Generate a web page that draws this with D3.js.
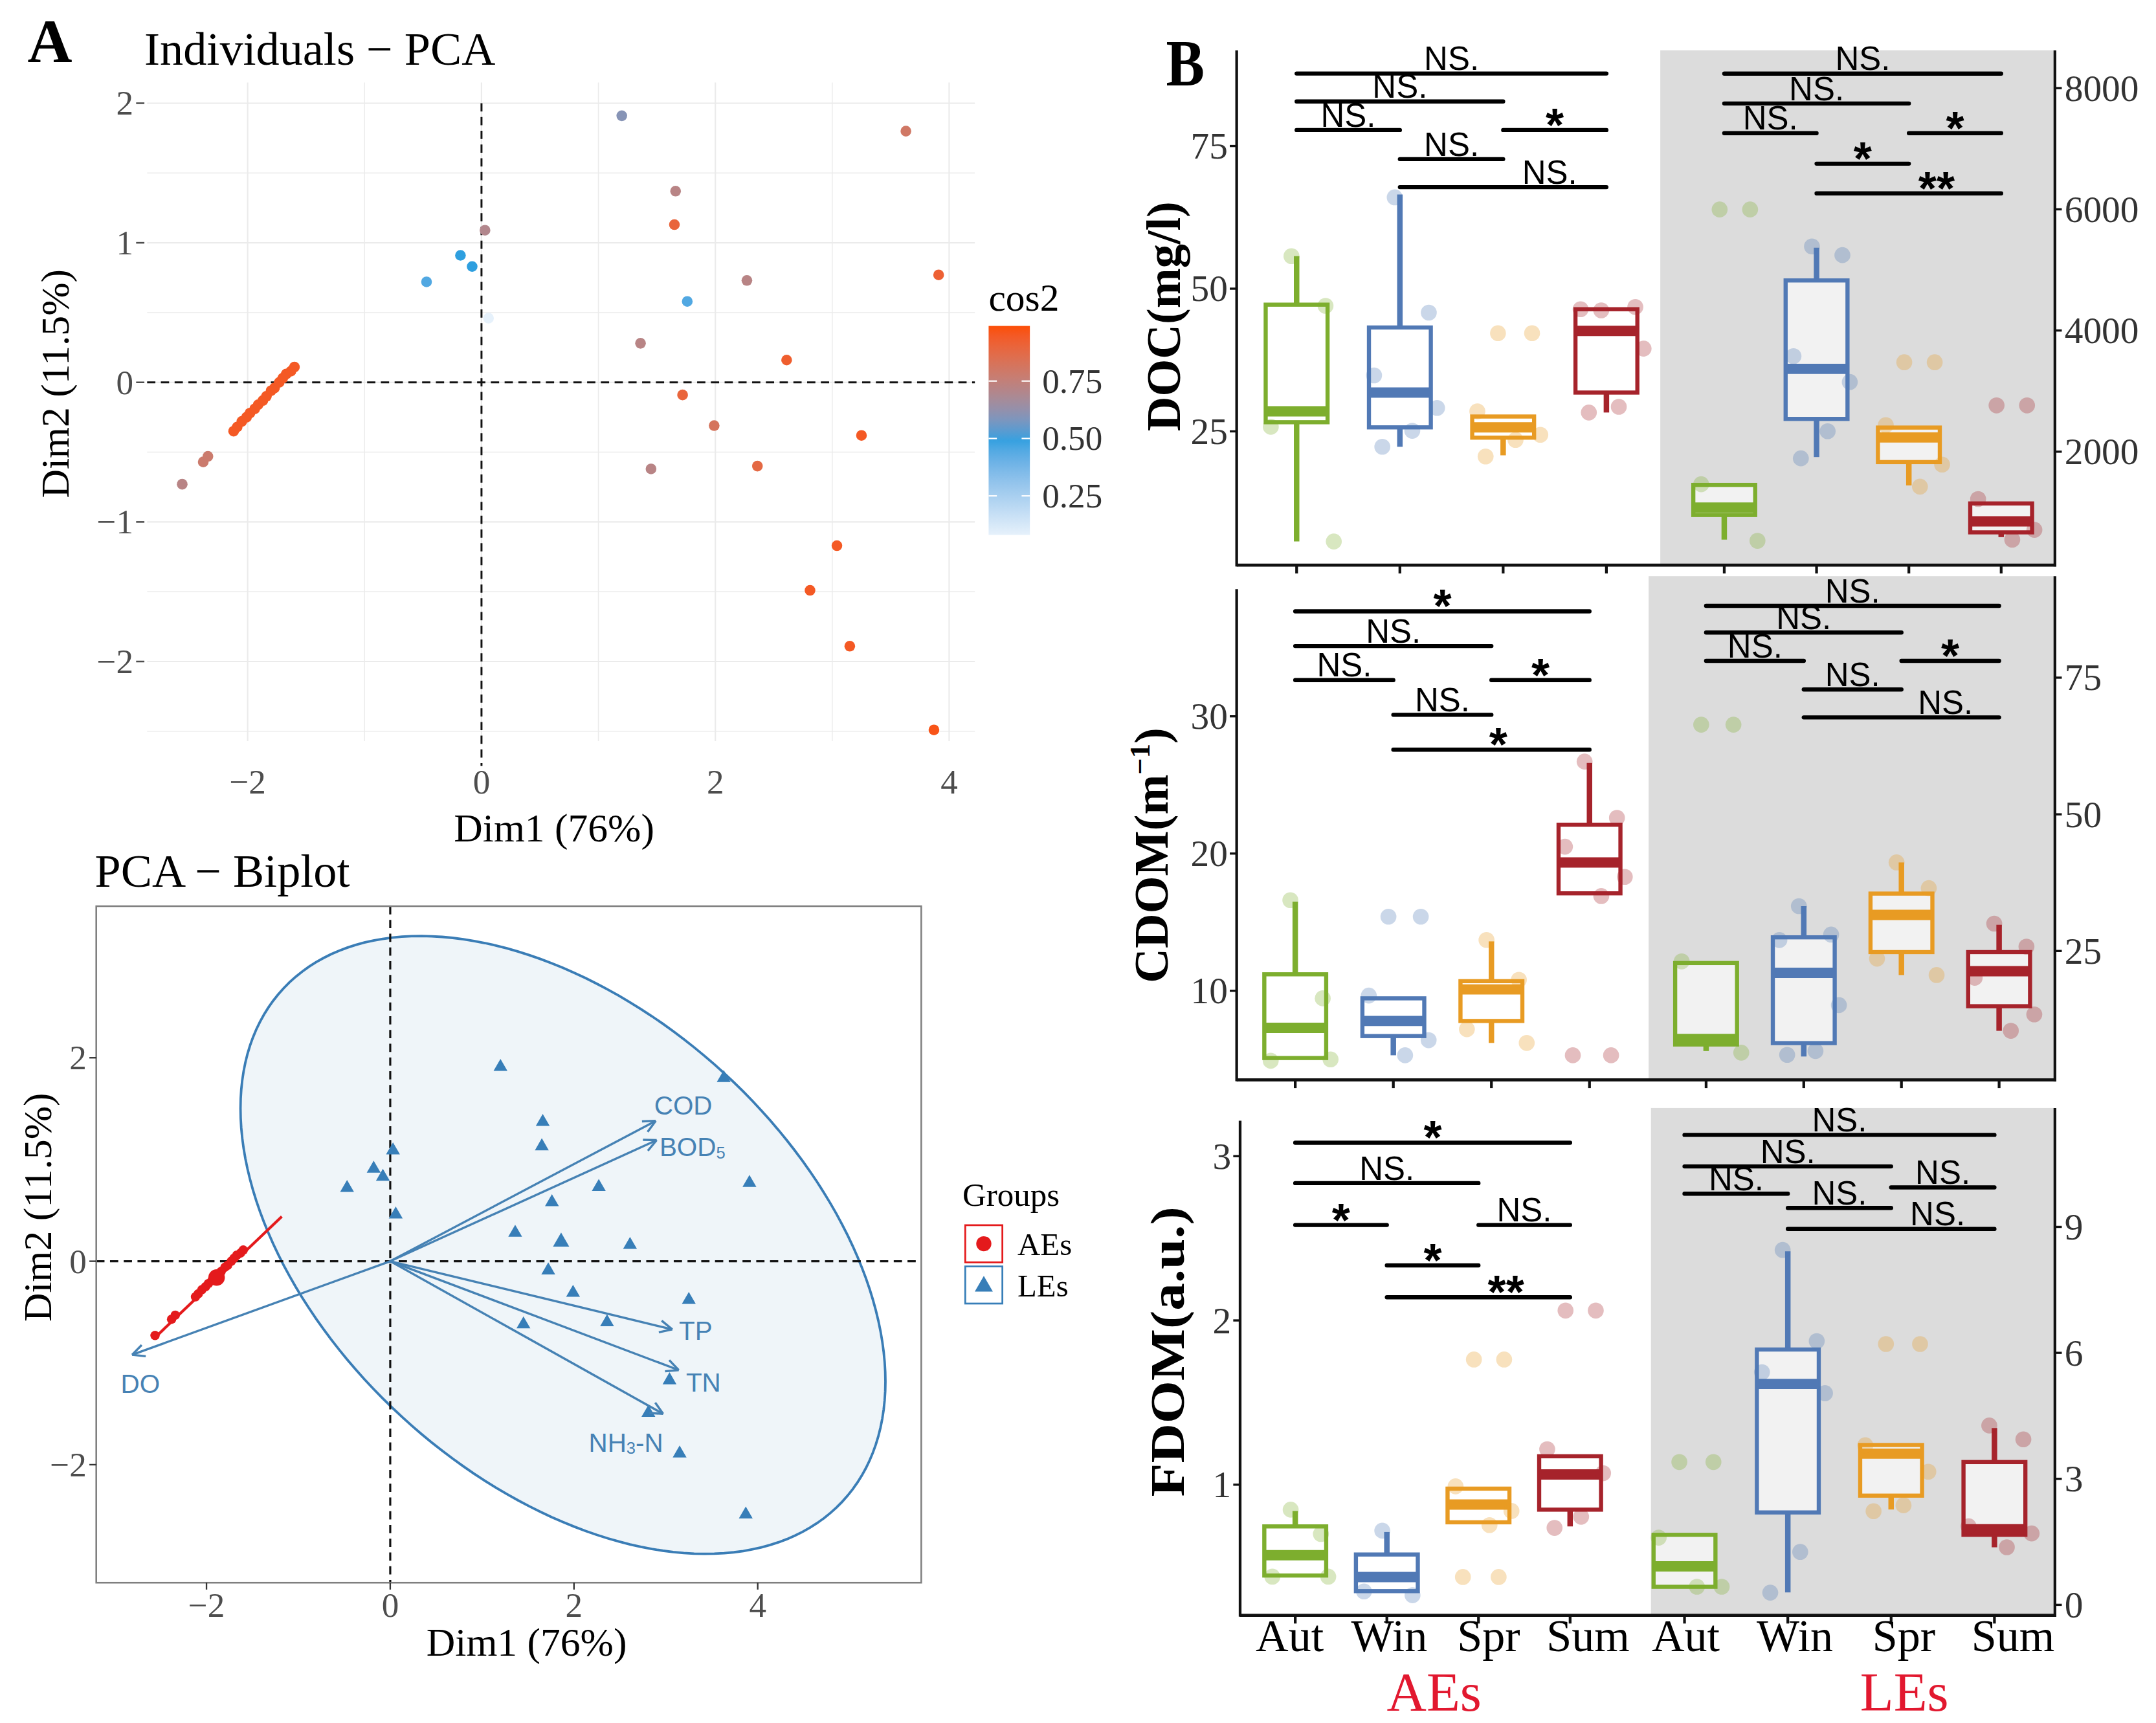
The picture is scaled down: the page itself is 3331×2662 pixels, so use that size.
<!DOCTYPE html>
<html><head><meta charset="utf-8">
<script src="https://cdn.jsdelivr.net/npm/d3@7"></script>
<style>html,body{margin:0;padding:0;background:#fff;}svg{display:block;}</style>
</head><body><svg id="c"></svg>
<script>
// ================= DATA =================
// Panel A: PCA individuals (Dim1, Dim2, cos2)
const leDim1=[1.20,3.63,1.66,1.65,0.03,-0.18,-0.08,-0.47,2.27,3.91,1.76,1.36,2.61,1.72,1.99,3.25,1.45,2.36,3.04,2.81,3.15,3.87,0.06];
const leDim2=[1.91,1.80,1.37,1.13,1.09,0.91,0.83,0.72,0.73,0.77,0.58,0.28,0.16,-0.09,-0.31,-0.38,-0.62,-0.60,-1.17,-1.49,-1.89,-2.49,0.46];
const leCos2=[0.60,0.80,0.72,0.90,0.70,0.50,0.50,0.45,0.72,0.92,0.45,0.72,0.93,0.90,0.82,0.95,0.72,0.88,0.95,0.95,0.95,0.97,0.08];
const aeDim1=[-2.56,-2.38,-2.34,-2.12,-2.09,-2.05,-2.01,-1.98,-1.94,-1.91,-1.87,-1.84,-1.80,-1.77,-1.73,-1.70,-1.67,-1.63,-1.60];
const aeDim2=[-0.73,-0.57,-0.53,-0.35,-0.32,-0.28,-0.25,-0.22,-0.19,-0.16,-0.13,-0.10,-0.06,-0.04,0.00,0.03,0.06,0.08,0.11];
const aeCos2=[0.72,0.78,0.78,0.95,0.95,0.95,0.95,0.95,0.95,0.95,0.95,0.95,0.95,0.95,0.95,0.95,0.95,0.95,0.95];
const aeMean=[-1.89,-0.16];
const leMean=[1.86,0.19];
const aeEllipseEnds=[[-2.56,-0.75],[-1.18,0.44]];
const leEllipseCenter=[1.88,0.16];
const leEllipseCov=[12.32,-4.71,9.22]; // sxx, sxy, syy
const varNames=["COD","BOD5","TP","TN","NH3-N","DO"];
const varDim1=[2.89,2.90,3.07,3.14,2.97,-2.81];
const varDim2=[1.38,1.19,-0.67,-1.07,-1.50,-0.92];
const pcaTicksX=[-2,0,2,4], pcaTicksY=[-2,-1,0,1,2], biTicksY=[-2,0,2];
const cos2Ticks=[0.25,0.50,0.75];

// Panel B: seasons and box statistics [lower whisker, Q1, median, Q3, upper whisker]
const seasons=["Aut","Win","Spr","Sum"];
const docAEsBox=[[5.7,26.6,28.5,47.2,55.7],[22.3,25.7,31.8,43.2,66.5],[20.8,23.9,25.7,27.6,27.6],[28.3,31.8,42.6,46.4,46.4]];
const docLEsBox=[[549,955,1078,1452,1452],[1911,2541,3367,4826,5366],[1443,1829,2235,2398,2398],[590,669,850,1146,1146]];
const cdomAEsBox=[[5.1,5.1,7.3,11.2,16.5],[5.3,6.7,7.8,9.45,9.55],[6.2,7.8,10.1,10.7,13.6],[17.1,17.1,19.35,22.1,26.6]];
const cdomLEsBox=[[6.7,7.9,8.9,22.8,22.8],[5.7,8.15,21.0,27.5,33.2],[20.6,24.8,31.6,35.5,41.2],[10.4,14.9,21.3,24.8,29.8]];
const fdomAEsBox=[[0.447,0.447,0.571,0.746,0.84],[0.352,0.352,0.438,0.575,0.712],[0.771,0.771,0.879,0.976,0.976],[0.746,0.848,1.062,1.173,1.173]];
const fdomLEsBox=[[0.429,0.429,0.917,1.667,1.667],[0.295,2.20,5.26,6.08,8.42],[2.27,2.60,3.60,3.806,3.806],[1.37,1.667,1.80,3.40,4.21]];
// observations
const docAEsPts=[[55.7,47,25.8,5.7],[66,45.8,34.8,29.1,25.1,22.3],[42.2,42.2,28.5,24.4,23.5,20.6],[46.2,46.8,46.4,39.5,29.3,28.3]];
const docLEsPts=[[5997,5997,1463,529],[5387,5244,3576,3150,2337,1890],[3476,3476,2439,1788,1423],[2764,2764,1219,710,549]];
const cdomAEsPts=[[16.6,9.45,4.9,5.0],[15.4,15.4,9.65,6.4,5.3],[13.7,10.8,7.2,6.2],[26.7,22.6,20.5,18.3,16.9,5.3,5.3]];
const cdomLEsPts=[[66.4,66.4,23.1,6.4],[33.2,28,27.0,15.1,6.7,6.0],[41.2,36.5,23.6,20.6],[30,25.8,20.1,13.4,10.4]];
const fdomAEsPts=[[0.848,0.70,0.44,0.44],[0.72,0.327,0.35],[1.762,1.762,0.99,0.84,0.754,0.438,0.438],[2.06,2.06,1.216,1.07,0.805,0.737]];
const fdomLEsPts=[[3.40,3.40,1.6,0.43,0.43],[8.45,6.28,5.54,5.04,1.26,0.29],[6.21,6.21,3.80,3.17,2.37,2.23],[4.27,3.94,1.87,1.70,1.37]];
// significance: [from, to, label, y position (data units)]
const docAEsSig=[["Aut","Sum","NS.",87.7],["Aut","Spr","NS.",82.8],["Aut","Win","NS.",77.8],["Spr","Sum","*",77.8],["Win","Spr","NS.",72.7],["Win","Sum","NS.",67.8]];
const docLEsSig=[["Aut","Sum","NS.",8239],["Aut","Spr","NS.",7747],["Aut","Win","NS.",7257],["Spr","Sum","*",7257],["Win","Spr","*",6753],["Win","Sum","**",6263]];
const cdomAEsSig=[["Aut","Sum","*",37.65],["Aut","Spr","NS.",35.12],["Aut","Win","NS.",32.64],["Spr","Sum","*",32.64],["Win","Spr","NS.",30.11],["Win","Sum","*",27.57]];
const cdomLEsSig=[["Aut","Sum","NS.",88.13],["Aut","Spr","NS.",83.25],["Aut","Win","NS.",78.07],["Spr","Sum","*",78.07],["Win","Spr","NS.",72.84],["Win","Sum","NS.",67.73]];
const fdomAEsSig=[["Aut","Sum","*",3.082],["Aut","Spr","NS.",2.836],["Aut","Win","*",2.581],["Spr","Sum","NS.",2.581],["Win","Spr","*",2.335],["Win","Sum","**",2.141]];
const fdomLEsSig=[["Aut","Sum","NS.",11.19],["Aut","Spr","NS.",10.44],["Aut","Win","NS.",9.79],["Spr","Sum","NS.",9.94],["Win","Spr","NS.",9.45],["Win","Sum","NS.",8.95]];
const docLTicks=[25,50,75], docRTicks=[2000,4000,6000,8000];
const cdomLTicks=[10,20,30], cdomRTicks=[25,50,75];
const fdomLTicks=[1,2,3], fdomRTicks=[0,3,6,9];

// ================= STYLE / LAYOUT =================
const SERIF="'Liberation Serif','Times New Roman',serif", SANS="'Liberation Sans',Arial,sans-serif";
const seasonColors=["#7DAE2E","#5179B5","#E89B23","#A6232B"];
const svg=d3.select("#c").attr("width",3331).attr("height",2662).attr("viewBox","0 0 1568 1253");
svg.append("rect").attr("width",1568).attr("height",1253).attr("fill","#fff");

function txt(g,x,y,s,o){
  const t=g.append("text").attr("x",x).attr("y",y).text(s)
    .attr("font-family",o.ff||SERIF).attr("font-size",o.fs||20).attr("fill",o.fill||"#000")
    .attr("text-anchor",o.anchor||"start");
  if(o.fw) t.attr("font-weight",o.fw);
  if(o.db) t.attr("dominant-baseline",o.db);
  if(o.tl) t.attr("textLength",o.tl).attr("lengthAdjust","spacingAndGlyphs");
  if(o.tr) t.attr("transform",o.tr);
  return t;
}
const cosColor=v=> v<=0.5 ? d3.interpolateLab("#FFFFFF","#2E9FDF")(Math.max(0,(v-0.01)/0.49))
                          : d3.interpolateLab("#2E9FDF","#FC4E07")(Math.min(1,(v-0.5)/0.49));
const fmtMinus=d=> (d<0?"\u2212":"")+Math.abs(d);

// ================= PANEL A (top): Individuals - PCA =================
(function(){
  const g=svg.append("g");
  const x=d3.scaleLinear().domain([-2.86,4.22]).range([107,709]);
  const y=d3.scaleLinear().domain([-2.63,2.148]).range([545,60]);
  const [x0,x1]=x.range(), [y0,y1]=y.range();
  const minorY=[-2.5,-1.5,-0.5,0.5,1.5];
  g.selectAll(".gy").data(pcaTicksY.concat(minorY)).join("line").attr("x1",x0).attr("x2",x1)
    .attr("y1",d=>y(d)).attr("y2",d=>y(d)).attr("stroke","#EBEBEB").attr("stroke-width",d=>Number.isInteger(d)?1:0.7);
  g.selectAll(".gx").data(d3.range(-2,5,1)).join("line").attr("y1",y1).attr("y2",y0-6)
    .attr("x1",d=>x(d)).attr("x2",d=>x(d)).attr("stroke","#EBEBEB").attr("stroke-width",d=>d%2===0?1:0.7);
  g.append("line").attr("x1",x0).attr("x2",x1).attr("y1",y(0)).attr("y2",y(0)).attr("stroke","#111").attr("stroke-width",1.4).attr("stroke-dasharray","6,4");
  g.append("line").attr("x1",x(0)).attr("x2",x(0)).attr("y1",y1+15).attr("y2",y0+12).attr("stroke","#111").attr("stroke-width",1.4).attr("stroke-dasharray","6,4");
  pcaTicksY.forEach(d=>{
    txt(g,97,y(d),fmtMinus(d),{fs:25,anchor:"end",db:"central",fill:"#4D4D4D"});
    g.append("line").attr("x1",99).attr("x2",105).attr("y1",y(d)).attr("y2",y(d)).attr("stroke","#4D4D4D").attr("stroke-width",1.2);
  });
  pcaTicksX.forEach(d=>txt(g,x(d),577,fmtMinus(d),{fs:25,anchor:"middle",fill:"#4D4D4D"}));
  const pts=leDim1.map((d,i)=>({x:d,y:leDim2[i],c:leCos2[i]})).concat(aeDim1.map((d,i)=>({x:d,y:aeDim2[i],c:aeCos2[i]})));
  g.selectAll(".p").data(pts).join("circle").attr("cx",d=>x(d.x)).attr("cy",d=>y(d.y)).attr("r",3.9).attr("fill",d=>cosColor(d.c));
  txt(svg,20,45,"A",{fs:45,fw:"bold"});
  txt(g,105,47,"Individuals \u2212 PCA",{fs:34});
  txt(g,403,612,"Dim1 (76%)",{fs:29,anchor:"middle"});
  txt(g,0,0,"Dim2 (11.5%)",{fs:29,anchor:"middle",tr:"translate(50,279) rotate(-90)"});
  const ly=d3.scaleLinear().domain([0.08,0.99]).range([389,237]);
  const grad=svg.append("defs").append("linearGradient").attr("id","cosg").attr("x1",0).attr("x2",0).attr("y1",1).attr("y2",0);
  d3.range(0,1.0001,0.05).forEach(t=>{const v=0.08+t*0.91;grad.append("stop").attr("offset",t).attr("stop-color",cosColor(v));});
  txt(g,719,226,"cos2",{fs:28});
  g.append("rect").attr("x",719).attr("y",ly(0.99)).attr("width",30).attr("height",ly(0.08)-ly(0.99)).attr("fill","url(#cosg)");
  cos2Ticks.forEach(d=>{
    g.append("line").attr("x1",719).attr("x2",725).attr("y1",ly(d)).attr("y2",ly(d)).attr("stroke","#fff").attr("stroke-width",1);
    g.append("line").attr("x1",743).attr("x2",749).attr("y1",ly(d)).attr("y2",ly(d)).attr("stroke","#fff").attr("stroke-width",1);
    txt(g,758,ly(d),d.toFixed(2),{fs:25,db:"central",fill:"#333"});
  });
})();

// ================= PANEL A (bottom): PCA - Biplot =================
(function(){
  const g=svg.append("g");
  const x=d3.scaleLinear().domain([-3.2,5.78]).range([70,670]);
  const y=d3.scaleLinear().domain([-3.16,3.49]).range([1151,659]);
  const [x0,x1]=x.range(), [y0,y1]=y.range();
  txt(g,69,645,"PCA \u2212 Biplot",{fs:34});
  const [cx,cy]=leEllipseCenter, [sxx,sxy,syy]=leEllipseCov;
  const L11=Math.sqrt(sxx), L21=sxy/L11, L22=Math.sqrt(syy-L21*L21);
  const ell=d3.range(0,360,2).map(a=>{const t=a*Math.PI/180;return [x(cx+L11*Math.cos(t)),y(cy+L21*Math.cos(t)+L22*Math.sin(t))];});
  g.append("path").attr("d",d3.line().curve(d3.curveLinearClosed)(ell)).attr("fill","#377EB8").attr("fill-opacity",0.08)
    .attr("stroke","#3A7DB6").attr("stroke-width",1.8);
  g.append("line").attr("x1",x0).attr("x2",x1).attr("y1",y(0)).attr("y2",y(0)).attr("stroke","#111").attr("stroke-width",1.5).attr("stroke-dasharray","6,4");
  g.append("line").attr("x1",x(0)).attr("x2",x(0)).attr("y1",y1).attr("y2",y0).attr("stroke","#111").attr("stroke-width",1.5).attr("stroke-dasharray","6,4");
  g.append("line").attr("x1",x(aeEllipseEnds[0][0])).attr("y1",y(aeEllipseEnds[0][1])).attr("x2",x(aeEllipseEnds[1][0])).attr("y2",y(aeEllipseEnds[1][1]))
    .attr("stroke","#E41A1C").attr("stroke-width",2);
  g.selectAll(".ae").data(aeDim1.map((d,i)=>[d,aeDim2[i]])).join("circle").attr("cx",d=>x(d[0])).attr("cy",d=>y(d[1])).attr("r",3.4).attr("fill","#E41A1C");
  g.append("circle").attr("cx",x(aeMean[0])).attr("cy",y(aeMean[1])).attr("r",6).attr("fill","#E41A1C");
  const tri=d3.symbol().type(d3.symbolTriangle).size(44);
  g.selectAll(".le").data(leDim1.map((d,i)=>[d,leDim2[i]])).join("path").attr("d",tri)
    .attr("transform",d=>`translate(${x(d[0])},${y(d[1])})`).attr("fill","#377EB8");
  g.append("path").attr("d",d3.symbol().type(d3.symbolTriangle).size(60)).attr("transform",`translate(${x(leMean[0])},${y(leMean[1])})`).attr("fill","#377EB8");
  const ac="#4682B4";
  varNames.forEach((n,i)=>{
    const tx=x(varDim1[i]), ty=y(varDim2[i]), ox=x(0), oy=y(0);
    g.append("line").attr("x1",ox).attr("y1",oy).attr("x2",tx).attr("y2",ty).attr("stroke",ac).attr("stroke-width",1.6);
    const ang=Math.atan2(ty-oy,tx-ox), L=10;
    [-0.45,0.45].forEach(da=>g.append("line").attr("x1",tx).attr("y1",ty)
      .attr("x2",tx-L*Math.cos(ang+da)).attr("y2",ty-L*Math.sin(ang+da)).attr("stroke",ac).attr("stroke-width",1.6));
  });
  const labPos={"COD":[20,-11,"middle"],"BOD5":[26,5,"middle"],"TP":[17,1,"middle"],"TN":[18,9,"middle"],"NH3-N":[-27,21,"middle"],"DO":[6,21,"middle"]};
  varNames.forEach((n,i)=>{
    const p=labPos[n], tx=x(varDim1[i])+p[0], ty=y(varDim2[i])+p[1];
    const t=txt(g,tx,ty,"",{ff:SANS,fs:19,fill:ac,anchor:p[2],db:"central"});
    const m=n.match(/^([A-Z]+)(\d)(.*)$/);
    if(m){t.append("tspan").text(m[1]);t.append("tspan").attr("font-size",12).attr("dy",4).text(m[2]);t.append("tspan").attr("dy",-4).text(m[3]);}
    else t.text(n);
  });
  g.append("rect").attr("x",x0).attr("y",y1).attr("width",x1-x0).attr("height",y0-y1).attr("fill","none").attr("stroke","#7F7F7F").attr("stroke-width",1.2);
  biTicksY.forEach(d=>{
    g.append("line").attr("x1",x0-5).attr("x2",x0).attr("y1",y(d)).attr("y2",y(d)).attr("stroke","#333").attr("stroke-width",1.1);
    txt(g,x0-7,y(d),fmtMinus(d),{fs:25,anchor:"end",db:"central",fill:"#4D4D4D"});
  });
  pcaTicksX.forEach(d=>{
    g.append("line").attr("x1",x(d)).attr("x2",x(d)).attr("y1",y0).attr("y2",y0+5).attr("stroke","#333").attr("stroke-width",1.1);
    txt(g,x(d),1176,fmtMinus(d),{fs:25,anchor:"middle",fill:"#4D4D4D"});
  });
  txt(g,383,1204,"Dim1 (76%)",{fs:29,anchor:"middle"});
  txt(g,0,0,"Dim2 (11.5%)",{fs:29,anchor:"middle",tr:"translate(37,878) rotate(-90)"});
  txt(g,700,877,"Groups",{fs:24});
  g.append("rect").attr("x",702).attr("y",891).attr("width",27).attr("height",27).attr("fill","#fff").attr("stroke","#E41A1C").attr("stroke-width",1.3);
  g.append("circle").attr("cx",715.5).attr("cy",904.5).attr("r",5.5).attr("fill","#E41A1C");
  g.append("rect").attr("x",702).attr("y",921).attr("width",27).attr("height",27).attr("fill","#fff").attr("stroke","#377EB8").attr("stroke-width",1.3);
  g.append("path").attr("d",d3.symbol().type(d3.symbolTriangle).size(75)).attr("transform","translate(715.5,935.5)").attr("fill","#377EB8");
  txt(g,740,905,"AEs",{fs:23,db:"central"});
  txt(g,740,935,"LEs",{fs:23,db:"central"});
})();

// ================= PANEL B =================
const rows=[
  {title:"DOC(mg/l)",tx:858,ty:230,tl:null,top:36.5,leftTop:36.5,bottom:411,leftX:899.4,grayX:1207.5,rightX:1494.5,
   aR:[943,1168.3],lR:[1254,1455.4],yL:[[1.55,91.78]],yR:[[127,8625]],lT:docLTicks,rT:docRTicks,
   aBox:docAEsBox,lBox:docLEsBox,aPts:docAEsPts,lPts:docLEsPts,aSig:docAEsSig,lSig:docLEsSig},
  {title:"CDOM",tx:849,ty:622,tl:null,top:419,leftTop:428.4,bottom:785.3,leftX:899.4,grayX:1199,rightX:1494.5,
   aR:[942,1156],lR:[1240.8,1453.9],yL:[[3.51,40.21]],yR:[[1.43,93.56]],lT:cdomLTicks,rT:cdomRTicks,
   aBox:cdomAEsBox,lBox:cdomLEsBox,aPts:cdomAEsPts,lPts:cdomLEsPts,aSig:cdomAEsSig,lSig:cdomLEsSig},
  {title:"FDOM(a.u.)",tx:861,ty:983,tl:211,top:805.8,leftTop:815,bottom:1174.7,leftX:901.9,grayX:1200.7,rightX:1494.5,
   aR:[942,1141.9],lR:[1225.1,1450.5],yL:[[0.205,3.293]],yR:[[-0.249,11.83]],lT:fdomLTicks,rT:fdomRTicks,
   aBox:fdomAEsBox,lBox:fdomLEsBox,aPts:fdomAEsPts,lPts:fdomLEsPts,aSig:fdomAEsSig,lSig:fdomLEsSig}
];
const jit=[-0.05,0.28,-0.25,0.36,0.12,-0.17,0.22];
txt(svg,848,62,"B",{fs:48,fw:"bold",tl:28});

rows.forEach(r=>{
  const g=svg.append("g");
  const yL=d3.scaleLinear().domain(r.yL[0]).range([r.bottom,r.top]);
  const yR=d3.scaleLinear().domain(r.yR[0]).range([r.bottom,r.top]);
  const xA=d3.scalePoint().domain(seasons).range(r.aR);
  const xLs=d3.scalePoint().domain(seasons).range(r.lR);
  g.append("rect").attr("x",r.grayX).attr("y",r.top).attr("width",r.rightX-r.grayX).attr("height",r.bottom-r.top).attr("fill","#DCDCDC");
  const bw=45;
  function drawGroup(xs,ys,box,pts,fill){
    const step=xs.step();
    seasons.forEach((s,i)=>{
      const c=seasonColors[i], cx=xs(s), b=box[i];
      g.append("line").attr("x1",cx).attr("x2",cx).attr("y1",ys(b[0])).attr("y2",ys(b[1])).attr("stroke",c).attr("stroke-width",4);
      g.append("line").attr("x1",cx).attr("x2",cx).attr("y1",ys(b[3])).attr("y2",ys(b[4])).attr("stroke",c).attr("stroke-width",4);
      g.append("rect").attr("x",cx-bw/2).attr("y",ys(b[3])).attr("width",bw).attr("height",Math.max(0.1,ys(b[1])-ys(b[3])))
        .attr("fill",fill).attr("stroke",c).attr("stroke-width",3);
      g.append("line").attr("x1",cx-bw/2).attr("x2",cx+bw/2).attr("y1",ys(b[2])).attr("y2",ys(b[2])).attr("stroke",c).attr("stroke-width",7.5);
    });
    seasons.forEach((s,i)=>{
      const c=seasonColors[i], cx=xs(s);
      g.selectAll(null).data(pts[i]).join("circle").attr("cx",(d,j)=>cx+jit[j%jit.length]*step).attr("cy",d=>ys(d))
        .attr("r",5.8).attr("fill",c).attr("fill-opacity",0.3);
    });
  }
  drawGroup(xA,yL,r.aBox,r.aPts,"#FFFFFF");
  drawGroup(xLs,yR,r.lBox,r.lPts,"#F2F2F2");
  function drawSig(xs,ys,sig){
    const step=xs.step();
    sig.forEach(([a,b,lab,v])=>{
      const x1=xs(a), x2=xs(b), yy=ys(v);
      g.append("line").attr("x1",x1).attr("x2",x2).attr("y1",yy).attr("y2",yy).attr("stroke","#000").attr("stroke-width",3).attr("stroke-linecap","round");
      let mx=(x1+x2)/2;
      if(a==="Win"&&b==="Sum") mx+= (lab==="NS."?0.45:lab==="**"?0.3:0.07)*step;
      if(lab==="NS.") txt(g,mx,yy-2.5,lab,{ff:SANS,fs:24,anchor:"middle"});
      else txt(g,mx,yy+8,lab,{ff:SANS,fs:34,fw:"bold",anchor:"middle"});
    });
  }
  drawSig(xA,yL,r.aSig);
  drawSig(xLs,yR,r.lSig);
  g.append("line").attr("x1",r.leftX).attr("x2",r.leftX).attr("y1",r.leftTop).attr("y2",r.bottom+1).attr("stroke","#111").attr("stroke-width",2);
  g.append("line").attr("x1",r.rightX).attr("x2",r.rightX).attr("y1",r.top).attr("y2",r.bottom+1).attr("stroke","#111").attr("stroke-width",2);
  g.append("line").attr("x1",r.leftX).attr("x2",r.rightX+1).attr("y1",r.bottom).attr("y2",r.bottom).attr("stroke","#111").attr("stroke-width",2.2);
  seasons.forEach(s=>{
    [xA(s),xLs(s)].forEach(xx=>g.append("line").attr("x1",xx).attr("x2",xx).attr("y1",r.bottom).attr("y2",r.bottom+6).attr("stroke","#111").attr("stroke-width",2));
  });
  r.lT.forEach(d=>{
    g.append("line").attr("x1",r.leftX-5).attr("x2",r.leftX).attr("y1",yL(d)).attr("y2",yL(d)).attr("stroke","#111").attr("stroke-width",1.6);
    txt(g,r.leftX-6.5,yL(d),String(d),{fs:27,anchor:"end",db:"central",fill:"#333"});
  });
  r.rT.forEach(d=>{
    g.append("line").attr("x1",r.rightX).attr("x2",r.rightX+5).attr("y1",yR(d)).attr("y2",yR(d)).attr("stroke","#111").attr("stroke-width",1.6);
    txt(g,r.rightX+7,yR(d),String(d),{fs:27,db:"central",fill:"#333"});
  });
  if(r.title==="CDOM"){
    const t=txt(g,0,0,"",{fs:35,fw:"bold",anchor:"middle",tr:`translate(${r.tx},${r.ty}) rotate(-90)`});
    t.append("tspan").text("CDOM(m");
    t.append("tspan").attr("font-size",21).attr("dy",-13).text("\u22121");
    t.append("tspan").attr("dy",13).text(")");
  } else {
    txt(g,0,0,r.title,{fs:35,fw:"bold",anchor:"middle",tl:r.tl,tr:`translate(${r.tx},${r.ty}) rotate(-90)`});
  }
});

const xLabA=d3.scalePoint().domain(seasons).range([938,1155]);
const xLabL=d3.scalePoint().domain(seasons).range([1226,1464]);
seasons.forEach(s=>{
  txt(svg,xLabA(s),1201,s,{fs:33,anchor:"middle"});
  txt(svg,xLabL(s),1201,s,{fs:33,anchor:"middle"});
});
txt(svg,1043,1244,"AEs",{fs:40,anchor:"middle",fill:"#E2182F"});
txt(svg,1385,1244,"LEs",{fs:40,anchor:"middle",fill:"#E2182F"});
</script></body></html>
